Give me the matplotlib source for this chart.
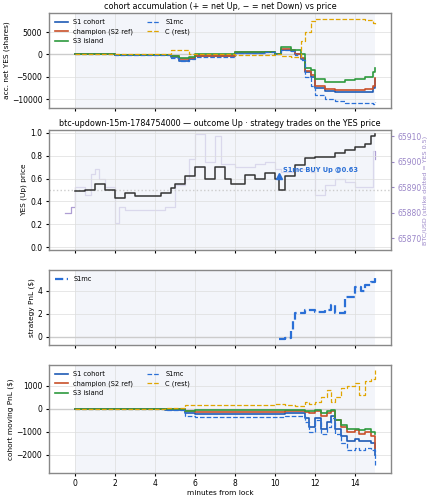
import numpy as np
import matplotlib
matplotlib.use('Agg')
import matplotlib.pyplot as plt

plt.rcParams['font.size'] = 5.5
plt.rcParams['axes.labelsize'] = 5.3

# accumulation panel (net YES shares)
acc_t = [0, 2, 4, 4.8, 5.2, 5.7, 6, 8, 9.5, 10, 10.3, 10.8, 11, 11.3, 11.5, 11.8, 12, 12.5, 13, 13.5, 14, 14.5, 14.9, 15]
acc_s1 = [0, -100, -200, -600, -1400, -1000, -400, 400, 500, 0, 1000, 800, 0, -1000, -4000, -5000, -7500, -8200, -8400, -8500, -8500, -8400, -7500, -5500]
acc_champ = [0, -80, -150, -450, -1100, -800, -300, 450, 600, 100, 1200, 900, 100, -800, -3600, -4500, -7000, -7800, -8000, -8000, -7900, -7800, -7000, -5200]
acc_s3 = [0, -50, -100, -300, -800, -500, 200, 500, 600, 200, 1600, 1100, 1100, 0, -3000, -3500, -5500, -6200, -6200, -5800, -5500, -5000, -4000, -3000]
acc_s1mc = [0, -100, -200, -700, -1500, -1100, -500, 400, 500, 0, 900, 700, -100, -1200, -5000, -7000, -9000, -10000, -10500, -10800, -10800, -10900, -11000, -10700]
acc_c = [0, 0, 100, 900, 1000, 200, 100, -100, -200, 0, -300, -600, -500, 3000, 5000, 7500, 8000, 8000, 8000, 8000, 7900, 7800, 7000, 6500]

# YES price and BTC
yes_t = [0, 0.5, 1, 1.5, 2, 2.5, 3, 4, 4.3, 4.8, 5, 5.5, 6, 6.5, 7, 7.5, 7.8, 8.5, 9, 9.5, 10, 10.2, 10.5, 11, 11.5, 12, 13, 13.5, 14, 14.5, 14.8, 15]
yes_p = [0.49, 0.5, 0.55, 0.5, 0.43, 0.47, 0.45, 0.45, 0.47, 0.52, 0.55, 0.62, 0.7, 0.6, 0.7, 0.6, 0.55, 0.63, 0.6, 0.65, 0.6, 0.5, 0.62, 0.72, 0.78, 0.79, 0.82, 0.85, 0.88, 0.9, 0.97, 0.99]
btc_t = [-0.5, -0.2, 0, 0.5, 0.8, 1, 1.2, 1.5, 2, 2.2, 2.5, 3, 4, 4.5, 5, 5.5, 5.7, 6, 6.5, 7, 7.3, 8, 9, 9.5, 10, 10.3, 11, 11.8, 12, 12.5, 13, 13.5, 14, 14.5, 14.9, 15]
btc_p = [65880, 65882, 65890, 65887, 65895, 65897, 65893, 65890, 65876, 65882, 65881, 65881, 65881, 65882, 65891, 65893, 65901, 65911, 65900, 65910, 65899, 65898, 65899, 65900, 65897, 65896, 65897, 65896, 65887, 65891, 65893, 65892, 65890, 65890, 65904, 65901]
buy_t, buy_p = 10.2, 0.62

# strategy PnL
pnl_t = [10.2, 10.5, 10.8, 10.9, 11, 11.5, 12, 12.5, 12.8, 13, 13.5, 14, 14.3, 14.5, 14.8, 15]
pnl_v = [-0.2, -0.1, 0.5, 1.5, 2.1, 2.3, 2.2, 2.3, 2.8, 2.1, 3.5, 4.3, 4.0, 4.5, 4.8, 5.4]

# cohort moving PnL
mv_t = [0, 4, 4.5, 5.5, 6, 8, 10, 10.5, 11, 11.5, 11.7, 12, 12.3, 12.6, 12.8, 13, 13.3, 13.6, 14, 14.2, 14.5, 14.8, 15]
mv_s1 = [0, 0, -50, -200, -250, -250, -250, -200, -200, -400, -800, -400, -900, -600, -300, -900, -1200, -1400, -1300, -1400, -1400, -1500, -2000]
mv_champ = [0, 0, -30, -120, -150, -150, -150, -100, -100, -150, -200, -100, -300, -200, -100, -500, -800, -1000, -950, -1100, -1000, -1200, -1700]
mv_s3 = [0, 0, -20, -100, -80, -80, -80, -50, -50, -100, -100, -50, -200, -100, -50, -500, -700, -900, -900, -950, -900, -1000, -1100]
mv_s1mc = [0, 0, -60, -300, -350, -350, -350, -300, -300, -600, -1000, -500, -1100, -800, -400, -1100, -1500, -1800, -1700, -1800, -1700, -1800, -2500]
mv_c = [0, 0, 30, 150, 150, 180, 200, 150, 100, 300, 200, 300, 500, 800, 300, 500, 900, 1000, 1100, 600, 1200, 1300, 1700]

BLUE, RED, GREEN, MC, GOLD = '#1f5bb5', '#c8502a', '#2e9a3e', '#2a6fd6', '#e0a500'
PURPLE = '#9a86c8'

fig = plt.figure(figsize=(4.34, 5.0), dpi=100)
L, W = 0.112, 0.79
axes = [fig.add_axes([L, 0.784, W, 0.19]),
        fig.add_axes([L, 0.50, W, 0.24]),
        fig.add_axes([L, 0.31, W, 0.15]),
        fig.add_axes([L, 0.054, W, 0.216])]

for ax in axes:
    ax.axvspan(0, 15, color='#eef1f8', alpha=0.7, lw=0)
    ax.grid(True, color='#dddddd', lw=0.5)
    for s in ax.spines.values():
        s.set_color('#888888')
        s.set_linewidth(1.0)
    ax.set_xlim(-1.3, 15.8)
    ax.set_xticks([0, 2, 4, 6, 8, 10, 12, 14])
    ax.tick_params(length=2.5, pad=2)
    if ax is not axes[3]:
        ax.tick_params(labelbottom=False)

ax = axes[0]
ax.axhline(0, color='#cccccc', lw=1)
ax.step(acc_t, acc_s1, where='post', color=BLUE, lw=1.2, label='S1 cohort')
ax.step(acc_t, acc_champ, where='post', color=RED, lw=1.2, label='champion (S2 ref)')
ax.step(acc_t, acc_s3, where='post', color=GREEN, lw=1.2, label='S3 island')
ax.step(acc_t, acc_s1mc, where='post', color=MC, lw=0.9, ls='--', label='S1mc')
ax.step(acc_t, acc_c, where='post', color=GOLD, lw=0.9, ls='--', label='C (rest)')
ax.set_ylabel('acc. net YES (shares)', labelpad=1)
ax.set_title('cohort accumulation (+ = net Up, − = net Down) vs price', fontsize=5.8, pad=3)
ax.set_ylim(-12000, 9300)
ax.legend(loc='upper left', ncol=2, fontsize=4.8, frameon=False)

ax = axes[1]
ax.axhline(0.5, color='#cccccc', lw=1, ls=':')
ax2 = ax.twinx()
ax2.step(btc_t, btc_p, where='post', color=PURPLE, lw=0.9, alpha=0.8)
ax2.set_ylim(65865.3, 65912.4)
ax2.set_ylabel('BTC/USD (strike dotted = YES 0.5)', color=PURPLE, fontsize=4.6, labelpad=1)
ax2.tick_params(axis='y', colors=PURPLE, length=2.5, pad=2)
for s in ax2.spines.values():
    s.set_visible(False)
ax.set_zorder(ax2.get_zorder() + 1)
ax.patch.set_visible(False)
ax.step(yes_t, yes_p, where='post', color='#333333', lw=1.1)
ax.plot(buy_t, buy_p, marker='^', color=MC, ms=5, ls='none')
ax.annotate('S1mc BUY Up @0.63', (buy_t, buy_p), xytext=(3, 3), textcoords='offset points',
            color=MC, fontsize=4.8, fontweight='bold')
ax.set_ylim(-0.026, 1.026)
ax.set_ylabel('YES (Up) price', labelpad=2)
ax.set_title('btc-updown-15m-1784754000 — outcome Up · strategy trades on the YES price', fontsize=5.8, pad=3)

ax = axes[2]
ax.axhline(0, color='#cccccc', lw=1)
ax.step(pnl_t, pnl_v, where='post', color=MC, lw=1.6, ls='--', label='S1mc')
ax.set_ylim(-0.7, 5.8)
ax.set_ylabel('strategy PnL ($)', labelpad=2)
ax.legend(loc='upper left', fontsize=4.8, frameon=False)

ax = axes[3]
ax.axhline(0, color='#cccccc', lw=1)
ax.step(mv_t, mv_s1, where='post', color=BLUE, lw=1.2, label='S1 cohort')
ax.step(mv_t, mv_champ, where='post', color=RED, lw=1.2, label='champion (S2 ref)')
ax.step(mv_t, mv_s3, where='post', color=GREEN, lw=1.2, label='S3 island')
ax.step(mv_t, mv_s1mc, where='post', color=MC, lw=0.9, ls='--', label='S1mc')
ax.step(mv_t, mv_c, where='post', color=GOLD, lw=0.9, ls='--', label='C (rest)')
ax.set_ylim(-2800, 1900)
ax.set_ylabel('cohort moving PnL ($)', labelpad=2)
ax.set_xlabel('minutes from lock', labelpad=1)
ax.legend(loc='upper left', ncol=2, fontsize=4.8, frameon=False)

fig.savefig('out.png', dpi=100)
